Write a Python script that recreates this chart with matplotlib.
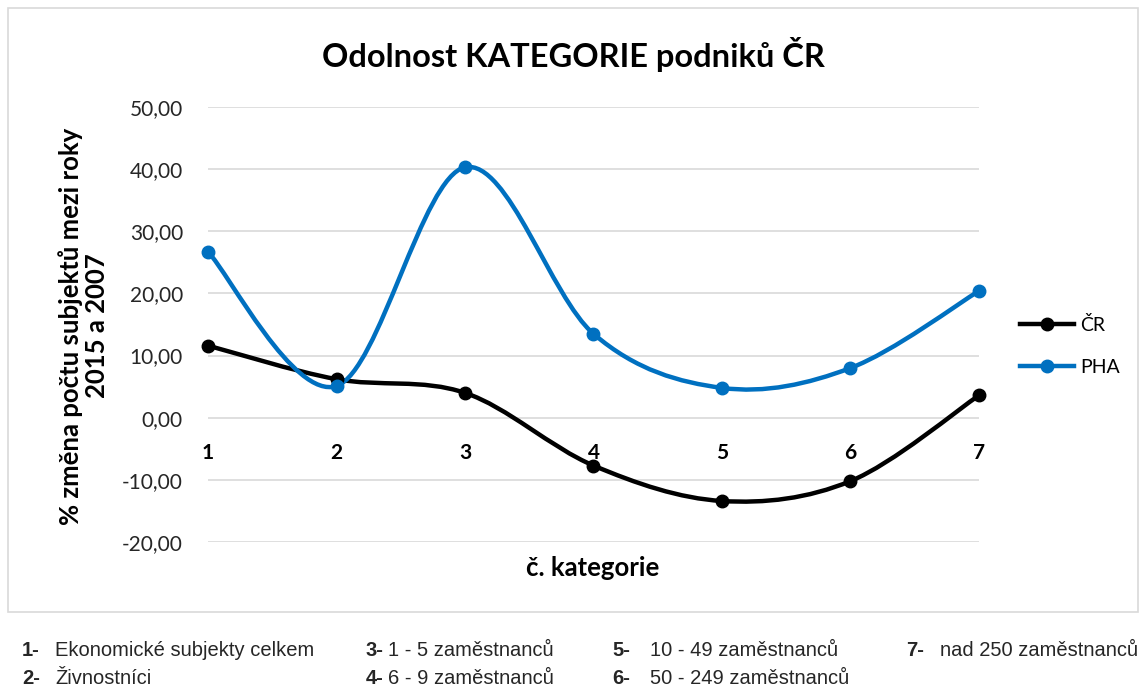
import matplotlib
matplotlib.use("Agg")
import matplotlib.pyplot as plt
from matplotlib.path import Path
from matplotlib.patches import PathPatch, Rectangle
from matplotlib.lines import Line2D

# data
kategorie = [1, 2, 3, 4, 5, 6, 7]
cr = [11.6, 6.2, 4.0, -7.7, -13.4, -10.2, 3.6]
pha = [26.7, 5.1, 40.3, 13.5, 4.8, 8.0, 20.4]
yticks = [-20, -10, 0, 10, 20, 30, 40, 50]
popisky = [
    ("1", "Ekonomické subjekty celkem"),
    ("2", "Živnostníci"),
    ("3", "1 - 5 zaměstnanců"),
    ("4", "6 - 9 zaměstnanců"),
    ("5", "10 - 49 zaměstnanců"),
    ("6", "50 - 249 zaměstnanců"),
    ("7", "nad 250 zaměstnanců"),
]

plt.rcParams['font.family'] = ['Lato', 'DejaVu Sans']

BLUE = '#0070C0'


def smooth_path(x, y):
    # Excel-like smoothed line: cubic Bezier segments through every point
    n = len(x)
    verts = [(x[0], y[0])]
    codes = [Path.MOVETO]
    for i in range(n - 1):
        i0 = max(i - 1, 0)
        i3 = min(i + 2, n - 1)
        c1 = (x[i] + (x[i + 1] - x[i0]) / 6, y[i] + (y[i + 1] - y[i0]) / 6)
        c2 = (x[i + 1] - (x[i3] - x[i]) / 6, y[i + 1] - (y[i3] - y[i]) / 6)
        verts += [c1, c2, (x[i + 1], y[i + 1])]
        codes += [Path.CURVE4] * 3
    return Path(verts, codes)


fig = plt.figure(figsize=(11.46, 6.88), dpi=100)
ax = fig.add_axes([208 / 1146, 1 - 542 / 688, 771 / 1146, 435 / 688])

for vals, col in [(cr, 'black'), (pha, BLUE)]:
    ax.add_patch(PathPatch(smooth_path(kategorie, vals), facecolor='none',
                           edgecolor=col, lw=3.2, capstyle='round',
                           clip_on=False, zorder=3))
    ax.plot(kategorie, vals, 'o', color=col, ms=9, clip_on=False, zorder=4)

ax.set_xlim(1, 7)
ax.set_ylim(-20, 50)
ax.set_yticks(yticks)
ax.set_yticklabels([f"{v:.2f}".replace('.', ',') for v in yticks])
ax.grid(axis='y', color='#d9d9d9', lw=1.2)
ax.set_axisbelow(True)
for s in ax.spines.values():
    s.set_visible(False)
ax.tick_params(axis='y', length=0, pad=18, labelsize=15, labelcolor='#262626')
ax.set_xticks([])
for k in kategorie:
    ax.text(k, -5.7, str(k), ha='center', va='center', fontsize=15,
            fontweight='bold')

fig.text(0.5, 1 - 55 / 688, 'Odolnost KATEGORIE podniků ČR', ha='center',
         va='center', fontsize=23.5, fontweight='bold')
fig.text(593 / 1146, 1 - 568 / 688, 'č. kategorie', ha='center', va='center',
         fontsize=18.5, fontweight='bold')
fig.text(84 / 1146, 1 - 326 / 688, '% změna počtu subjektů mezi roky\n2015 a 2007',
         ha='center', va='center', rotation=90, fontsize=18.5,
         fontweight='bold', linespacing=1.1)

handles = [Line2D([], [], color='black', lw=3.2, marker='o', ms=9),
           Line2D([], [], color=BLUE, lw=3.2, marker='o', ms=9)]
fig.legend(handles, ['ČR', 'PHA'], loc='center left',
           bbox_to_anchor=(1002 / 1146, 1 - 346 / 688), frameon=False,
           fontsize=14, handlelength=2.8, labelspacing=1.3, handletextpad=0.3)

# chart frame
fig.patches.append(Rectangle((8 / 1146, 1 - 612 / 688), 1130 / 1146, 604 / 688,
                             transform=fig.transFigure, fill=False,
                             edgecolor='#d9d9d9', lw=1.2))

# category explanations under the chart
foot = ['Liberation Sans Narrow', 'Liberation Sans', 'DejaVu Sans']
cols = [(22, 55), (22, 55), (366, 388), (366, 388), (612, 650), (612, 650),
        (906, 940)]
rows = [651, 678, 651, 678, 651, 678, 651]
for (num, txt), (xn, xt), yy in zip(popisky, cols, rows):
    fig.text(xn / 1146, 1 - yy / 688, num + '-', fontsize=14.5,
             fontweight='bold', color='#262626', va='center', family=foot)
    fig.text(xt / 1146, 1 - yy / 688, txt, fontsize=14.5, color='#262626',
             va='center', family=foot)

fig.savefig('out.png', dpi=100)
